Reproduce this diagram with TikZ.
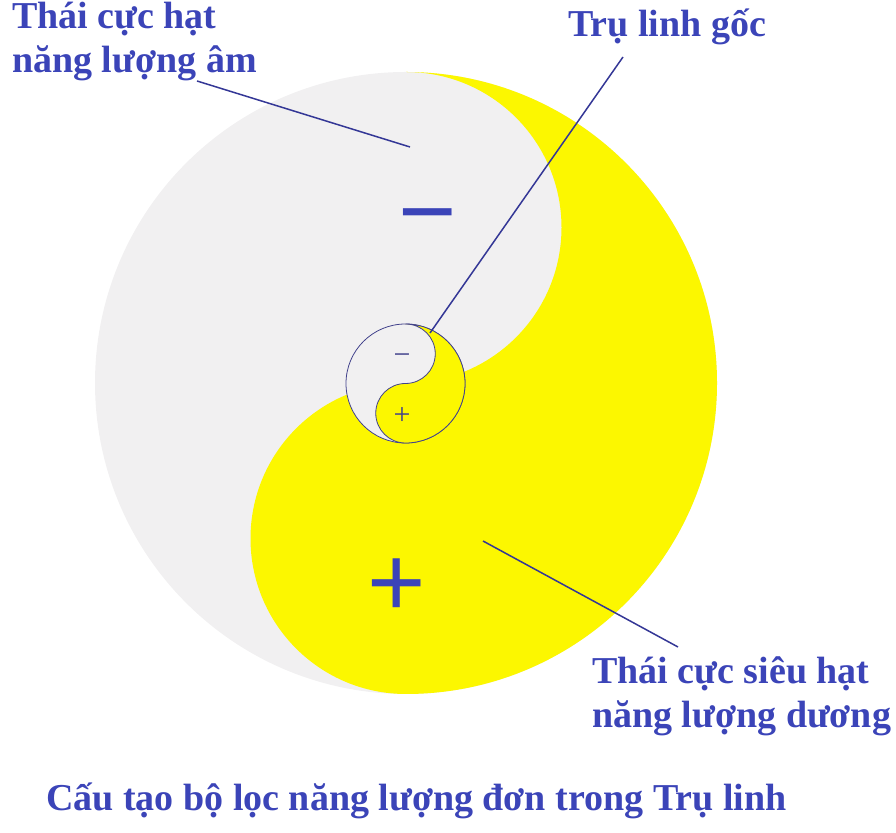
\documentclass[tikz,border=0pt]{standalone}
\usepackage{fontspec}
\setmainfont{Liberation Serif}
\newfontfamily\signfont{Liberation Sans}
\usetikzlibrary{calc}
\definecolor{amgray}{RGB}{241,240,241}
\definecolor{duongyellow}{RGB}{252,247,0}
\definecolor{labelblue}{RGB}{59,68,184}
\definecolor{leaderblue}{RGB}{52,55,150}
\definecolor{rimblue}{RGB}{66,66,140}

\begin{document}
\begin{tikzpicture}[x=1pt,y=1pt,
  labeltext/.style={text=labelblue, font=\fontsize{38}{44}\selectfont\bfseries, align=left, inner sep=0pt},
  leader/.style={leaderblue, line width=1.5pt},
  bigsign/.style={text=labelblue, font=\fontsize{100}{100}\selectfont\signfont, inner sep=0pt},
  smallsign/.style={text=rimblue, font=\fontsize{30}{30}\selectfont, inner sep=0pt}]
\useasboundingbox (0,0) rectangle (896,832);
\fill [amgray] (406,449) coordinate(o) circle [radius=311pt];
\fill [duongyellow] ($(o)+(0,311)$) arc [start angle=90, end angle=-90, radius=311pt] arc [start angle=-90, end angle=-270, radius=155.5pt] arc [start angle=-90, end angle=90, radius=155.5pt] -- cycle;
\filldraw [fill=amgray, draw=rimblue, line width=0.8pt] (405.5,448.5) coordinate(o2) circle [radius=59.5pt];
\filldraw [fill=duongyellow, draw=rimblue, line width=0.8pt] ($(o2)+(0,59.5)$) arc [start angle=90, end angle=-90, radius=59.5pt] arc [start angle=-90, end angle=-270, radius=29.75pt] arc [start angle=-90, end angle=90, radius=29.75pt] -- cycle;
\node [bigsign] (minus) at ($(o)+(21.5,156)$) {−};
\node [bigsign] (plus) at ($(o)+(-9,-205)$) {+};
\node [smallsign] (minus2) at ($(o2)+(-3.5,24.5)$) {−};
\node [smallsign] (plus2) at ($(o2)+(-3.5,-32.5)$) {+};
\node [labeltext, anchor=base west] (am) at (12,759) {Thái cực hạt\\năng lượng âm};
\node [labeltext, anchor=base west] (goc) at (568,795) {Trụ linh gốc};
\node [labeltext, anchor=base west] (duong) at (592,104) {Thái cực siêu hạt\\năng lượng dương};
\node [labeltext, anchor=base west] (title) at (46,22) {Cấu tạo bộ lọc năng lượng đơn trong Trụ linh};
\coordinate (am foot) at (197,751);
\coordinate (am tip) at (410,685);
\coordinate (goc foot) at (623,775);
\coordinate (goc tip) at (430,499);
\coordinate (duong foot) at (678,185);
\coordinate (duong tip) at (483,291);
\draw [leader] (am foot) -- (am tip);
\draw [leader] (goc foot) -- (goc tip);
\draw [leader] (duong foot) -- (duong tip);
\end{tikzpicture}
\end{document}
